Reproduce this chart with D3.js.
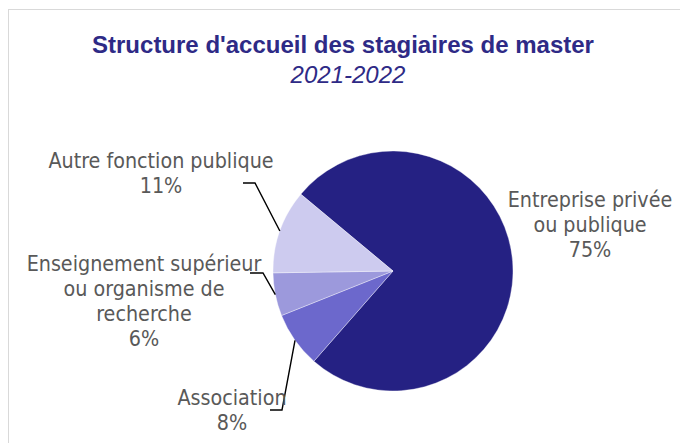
<!DOCTYPE html>
<html>
<head>
<meta charset="utf-8">
<script src="https://cdn.jsdelivr.net/npm/d3@7"></script>
<style>
  body { margin: 0; background: #fff; }
  svg { display: block; }
  .title { font-family: "Liberation Sans", Arial, sans-serif; font-weight: bold; fill: #2e2a86; }
  .subtitle { font-family: "Liberation Sans", Arial, sans-serif; font-style: italic; fill: #2e2a86; }
  .lbl { font-family: "DejaVu Sans Condensed", "DejaVu Sans", sans-serif; fill: #595959; }
</style>
</head>
<body>
<div id="chart"></div>
<script>
// data
let categories = ["Entreprise privée ou publique", "Association", "Enseignement supérieur ou organisme de recherche", "Autre fonction publique"];
let labelLines = [["Entreprise privée", "ou publique"], ["Association"], ["Enseignement supérieur", "ou organisme de", "recherche"], ["Autre fonction publique"]];
let shares = [75.4, 7.5, 5.8, 11.3];
let shownPct = ["75%", "8%", "6%", "11%"];
let colors = ["#252183", "#6c68cc", "#9c99dc", "#cdcbef"];

let width = 680, height = 443;
let cx = 393, cy = 271, radius = 120;
let lineH = 25;

// label layout: text centre, first baseline, elbow of the leader (null = no leader)
let labelPos = [
    {x: 590, y: 207, elbow: null},
    {x: 232, y: 405, elbow: [[270, 410], [282, 410]]},
    {x: 144, y: 271, elbow: [[250, 273], [263, 273]]},
    {x: 161, y: 168, elbow: [[243, 183], [255, 183]]}
];

let svg = d3.select("#chart").append("svg")
    .attr("width", width)
    .attr("height", height);

// frame
svg.append("rect")
    .attr("x", 8.5).attr("y", 9.5)
    .attr("width", width + 20).attr("height", height + 20)
    .attr("fill", "none")
    .attr("stroke", "#d9d9d9");

svg.append("text")
    .classed("title", true)
    .attr("x", 343).attr("y", 53)
    .attr("text-anchor", "middle")
    .style("font-size", "24px")
    .text("Structure d'accueil des stagiaires de master");

svg.append("text")
    .classed("subtitle", true)
    .attr("x", 348).attr("y", 83)
    .attr("text-anchor", "middle")
    .style("font-size", "24px")
    .text("2021-2022");

let pie = d3.pie()
    .sort(null)
    .value((d) => d)
    .startAngle(-50.2 * Math.PI / 180)
    .endAngle((360 - 50.2) * Math.PI / 180);

let arcs = pie(shares);

let arc = d3.arc().innerRadius(0).outerRadius(radius);

let g = svg.append("g")
    .attr("transform", "translate(" + cx + "," + cy + ")");

g.selectAll("path.slice")
    .data(arcs)
    .enter()
    .append("path")
    .classed("slice", true)
    .attr("d", arc)
    .attr("fill", (d, i) => colors[i])
    .attr("stroke", "#ffffff")
    .attr("stroke-width", 0.6)
    .attr("stroke-opacity", 0.6);

// leader lines
let leaders = svg.append("g").classed("leaders", true);
arcs.forEach((a, i) => {
    let pos = labelPos[i];
    if (!pos.elbow) return;
    let mid = (a.startAngle + a.endAngle) / 2;
    let px = cx + radius * Math.sin(mid);
    let py = cy - radius * Math.cos(mid);
    let pts = pos.elbow.concat([[px, py]]);
    leaders.append("path")
        .attr("d", d3.line()(pts))
        .attr("fill", "none")
        .attr("stroke", "#000")
        .attr("stroke-width", 1.4);
});

// labels
let labels = svg.append("g").classed("labels", true);
categories.forEach((c, i) => {
    let pos = labelPos[i];
    let t = labels.append("text")
        .classed("lbl", true)
        .attr("text-anchor", "middle")
        .style("font-size", "21.3px");
    labelLines[i].concat([shownPct[i]]).forEach((ln, k) => {
        t.append("tspan")
            .attr("x", pos.x)
            .attr("y", pos.y + k * lineH)
            .text(ln);
    });
});
</script>
</body>
</html>
